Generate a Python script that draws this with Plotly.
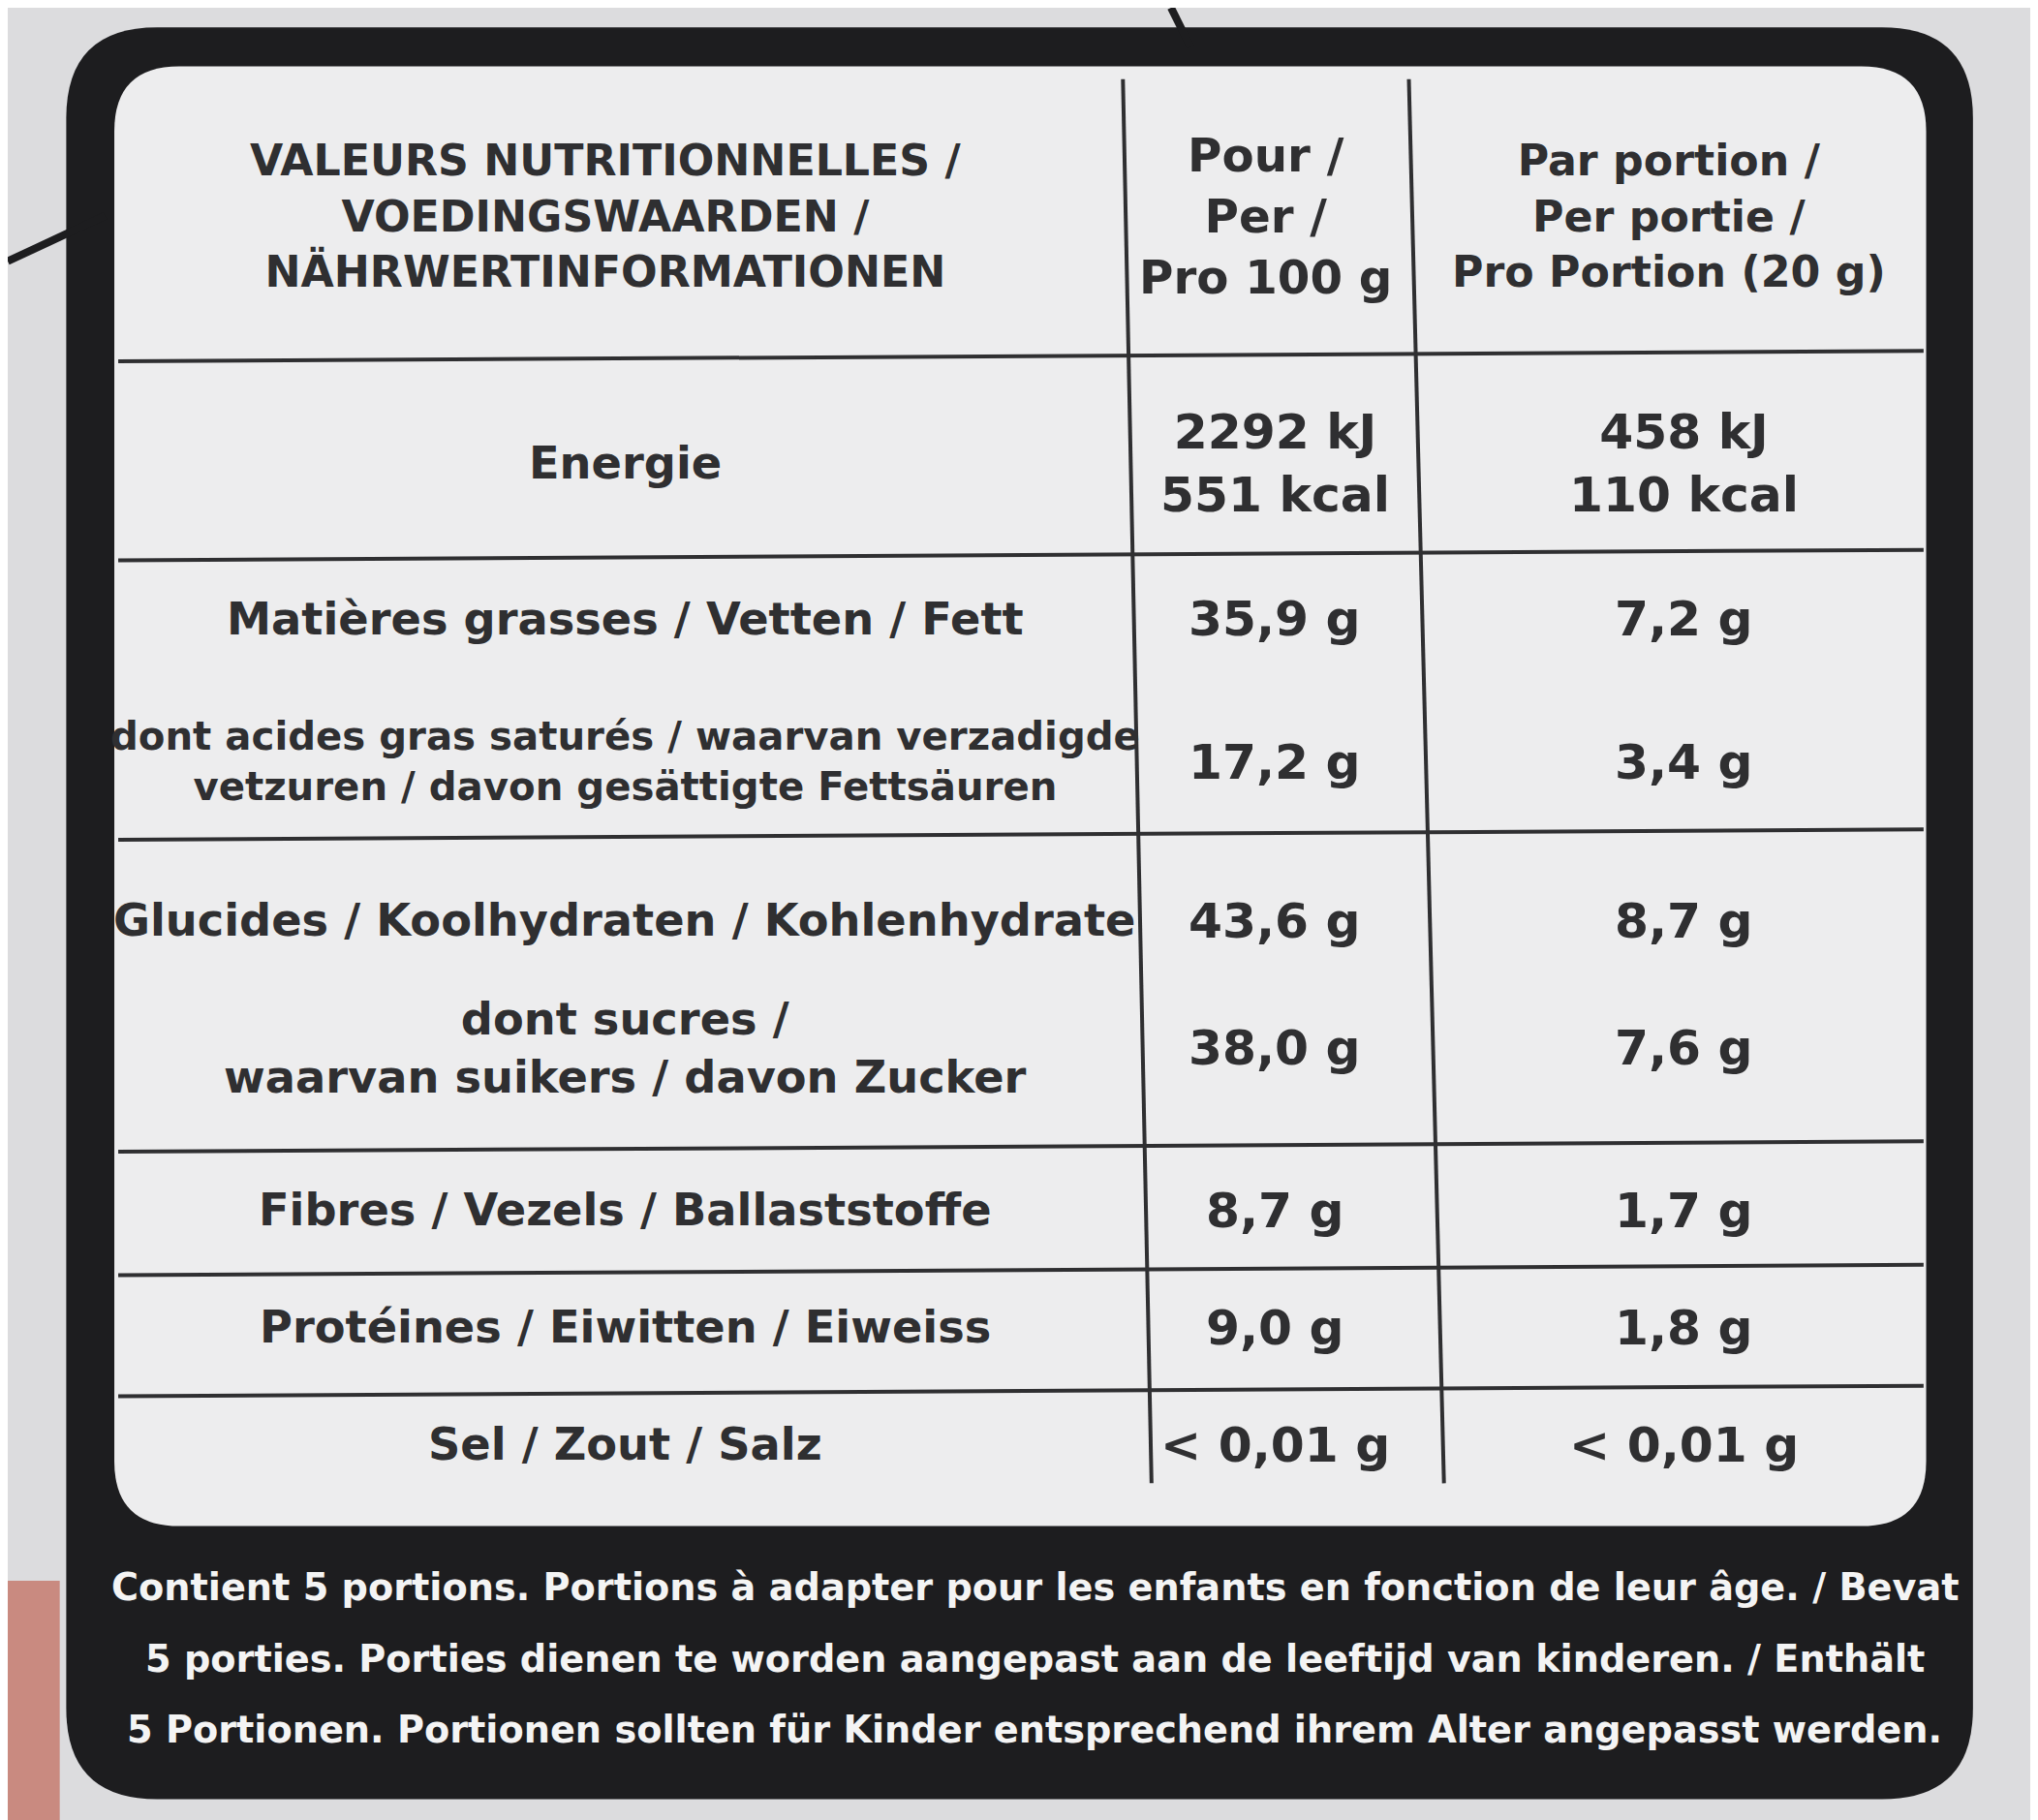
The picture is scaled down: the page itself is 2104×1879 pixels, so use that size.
import plotly.graph_objects as go

# nutrition table content
header = ["VALEURS NUTRITIONNELLES /<br>VOEDINGSWAARDEN /<br>NÄHRWERTINFORMATIONEN",
          "Pour /<br>Per /<br>Pro 100 g",
          "Par portion /<br>Per portie /<br>Pro Portion (20 g)"]
labels = ["Energie",
          "Matières grasses / Vetten / Fett",
          "dont acides gras saturés / waarvan verzadigde<br>vetzuren / davon gesättigte Fettsäuren",
          "Glucides / Koolhydraten / Kohlenhydrate",
          "dont sucres /<br>waarvan suikers / davon Zucker",
          "Fibres / Vezels / Ballaststoffe",
          "Protéines / Eiwitten / Eiweiss",
          "Sel / Zout / Salz"]
per_100g = ["2292 kJ<br>551 kcal", "35,9 g", "17,2 g", "43,6 g", "38,0 g", "8,7 g", "9,0 g", "< 0,01 g"]
per_portion = ["458 kJ<br>110 kcal", "7,2 g", "3,4 g", "8,7 g", "7,6 g", "1,7 g", "1,8 g", "< 0,01 g"]
row_y = [350, 470, 580, 702, 800, 925, 1015, 1105]
footer = ["Contient 5 portions. Portions à adapter pour les enfants en fonction de leur âge. / Bevat",
          "5 porties. Porties dienen te worden aangepast aan de leeftijd van kinderen. / Enthält",
          "5 Portionen. Portionen sollten für Kinder entsprechend ihrem Alter angepasst werden."]
rule_y = [272, 425, 640, 880, 975, 1068]

W, H = 1568, 1400
S = 2104 / W
FONT = "DejaVu Sans, sans-serif"
INK = "#2f2f31"


def rrect(x0, y0, x1, y1, r):
    return (f"M{x0+r},{y0} L{x1-r},{y0} Q{x1},{y0} {x1},{y0+r} L{x1},{y1-r} "
            f"Q{x1},{y1} {x1-r},{y1} L{x0+r},{y1} Q{x0},{y1} {x0},{y1-r} "
            f"L{x0},{y0+r} Q{x0},{y0} {x0+r},{y0} Z")


fig = go.Figure()
shapes = [
    dict(type="rect", x0=0, y0=1210, x1=40, y1=H, fillcolor="#c98a80", line_width=0, layer="below"),
    dict(type="path", path=rrect(45, 15, 1512, 1378, 70), fillcolor="#1d1d1f", line_width=0, layer="below"),
    dict(type="path", path=rrect(82, 45, 1476, 1168, 50), fillcolor="#ededee", line_width=0, layer="below"),
    dict(type="line", x0=0, y0=195, x1=75, y1=160, line=dict(color="#1d1d1f", width=8)),
    dict(type="line", x0=895, y0=0, x1=910, y1=30, line=dict(color="#1d1d1f", width=8)),
    dict(type="line", x0=858, y0=55, x1=880, y1=1135, line=dict(color=INK, width=4)),
    dict(type="line", x0=1078, y0=55, x1=1105, y1=1135, line=dict(color=INK, width=4)),
]
for y in rule_y:
    shapes.append(dict(type="line", x0=85, y0=y, x1=1474, y1=y - 8, line=dict(color=INK, width=4)))

ann = []
for x, t, fs in zip([460, 968, 1278], header, [44, 48, 44]):
    ann.append(dict(x=x, y=160, text=t, font=dict(size=fs * S * 0.75, color=INK)))
for y, l, a, b in zip(row_y, labels, per_100g, per_portion):
    lfs = 40 if "<br>" in l and "dont acides" in l else 46
    ann.append(dict(x=475, y=y, text=l, font=dict(size=lfs * S * 0.75, color=INK)))
    ann.append(dict(x=975, y=y, text=a, font=dict(size=50 * S * 0.75, color=INK)))
    ann.append(dict(x=1290, y=y, text=b, font=dict(size=50 * S * 0.75, color=INK)))
for i, t in enumerate(footer):
    ann.append(dict(x=790, y=1215 + i * 55, text=t, font=dict(size=38 * S * 0.75, color="#f4f4f4")))
for a in ann:
    a.update(xref="x", yref="y", showarrow=False, xanchor="center", yanchor="middle")
    a["font"]["family"] = FONT
    a["text"] = "<b>" + a["text"].replace("<br>", "</b><br><b>") + "</b>"

fig.update_layout(
    width=2104, height=1879, margin=dict(l=0, r=0, t=0, b=0),
    paper_bgcolor="#dcdcde", plot_bgcolor="#dcdcde",
    shapes=shapes, annotations=ann, showlegend=False,
    xaxis=dict(range=[0, W], visible=False, fixedrange=True),
    yaxis=dict(range=[H, 0], visible=False, fixedrange=True),
)
fig.write_html("out.html")
